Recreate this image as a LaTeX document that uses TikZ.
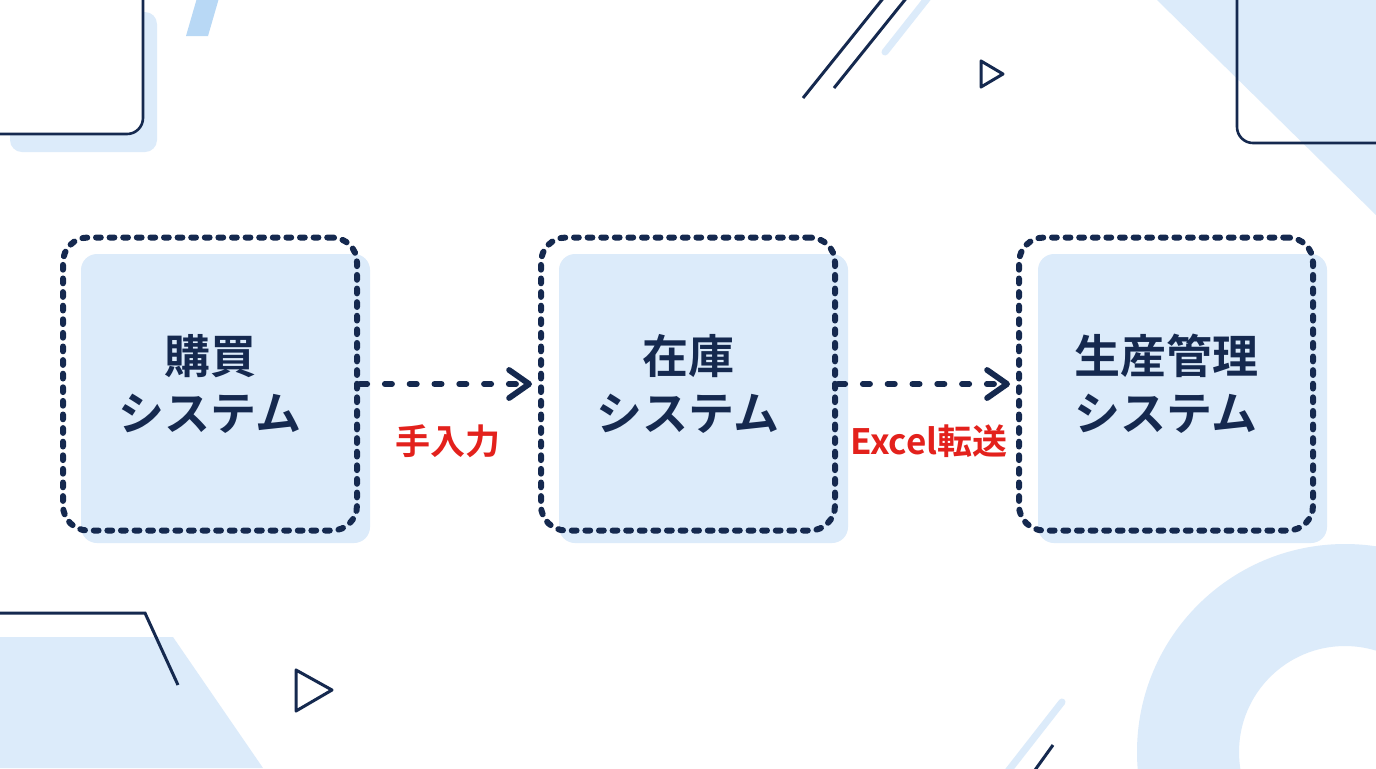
\documentclass[tikz,border=0pt]{standalone}
\usepackage{fontspec}
\newfontfamily\jp{Noto Sans CJK JP}[BoldFont={Noto Sans CJK JP Bold}]
\usetikzlibrary{arrows.meta}
\definecolor{navy}{HTML}{15294F}
\definecolor{light}{HTML}{DCEBFA}
\definecolor{midblue}{HTML}{B8D8F5}
\definecolor{accent}{HTML}{E3211C}
\begin{document}
\begin{tikzpicture}[x=0.5pt,y=-0.5pt,
  sysbox/.style={draw=navy, line width=3pt, dash pattern=on 2.4pt off 4.4pt, line cap=round,
    rounded corners=12.5pt, minimum width=147pt, minimum height=146.5pt, align=center,
    font=\jp\bfseries\fontsize{23}{28.5}\selectfont, text=navy, inner sep=0pt},
  boxfill/.style={fill=light, rounded corners=8pt},
  flow/.style={draw=navy, line width=2.9pt, dash pattern=on 3.6pt off 8.8pt, line cap=round,
    -{Straight Barb[length=10pt,width=14pt,round]}, shorten >=3pt},
  lbl/.style={text=accent, font=\jp\bfseries\fontsize{17.5}{20}\selectfont, inner sep=0pt},
  deco/.style={draw=navy, line width=1.5pt, line join=miter}]
\clip (0,0) rectangle (1376,768);
\fill[white] (0,0) rectangle (1376,768);
% background decorations
\fill[light, rounded corners=6pt] (10,12) rectangle (157,152);
\draw[navy, fill=white, line width=1.3pt, rounded corners=8pt] (-20,-20) rectangle (143,134);
\fill[midblue] (186,36) -- (208,36) -- (219,-2) -- (197,-2) -- cycle;
\draw[light, line width=3.5pt, line cap=round] (885,52) -- (930,-5);
\draw[deco] (803,98) -- (885,-4);
\draw[deco] (834,88) -- (908,-4);
\draw[deco, line join=round] (981,61) -- (981,87) -- (1003,74) -- cycle;
\fill[light] (1157,0) -- (1376,0) -- (1376,215) -- cycle;
\draw[navy, line width=1.3pt, rounded corners=8pt] (1237,-20) rectangle (1400,143);
\fill[light] (0,637) -- (173,637) -- (263,768) -- (0,768) -- cycle;
\draw[deco] (-5,613) -- (145,613) -- (178,685);
\draw[deco, line join=round] (296,670) -- (296,711) -- (332,690) -- cycle;
\fill[light, even odd rule] (1345,752) circle (104pt) (1345,752) circle (53pt);
\draw[light, line width=3.5pt, line cap=round] (1062,702) -- (1005,775);
\draw[deco] (1053,745) -- (1035,770);
% box fills
\fill[boxfill] (81,254) rectangle (370,543);
\fill[boxfill] (559,254) rectangle (848,543);
\fill[boxfill] (1038,254) rectangle (1327,543);
% boxes
\node[sysbox] (b1) at (210,384) {購買\\システム};
\node[sysbox] (b2) at (688,384) {在庫\\システム};
\node[sysbox] (b3) at (1166,384) {生産管理\\システム};
% connectors
\draw[flow] (b1.east) -- (b2.west);
\draw[flow] (b2.east) -- (b3.west);
\node[lbl] (l1) at (448,441) {手入力};
\node[lbl] (l2) at (929,441) {Excel転送};
\end{tikzpicture}
\end{document}
